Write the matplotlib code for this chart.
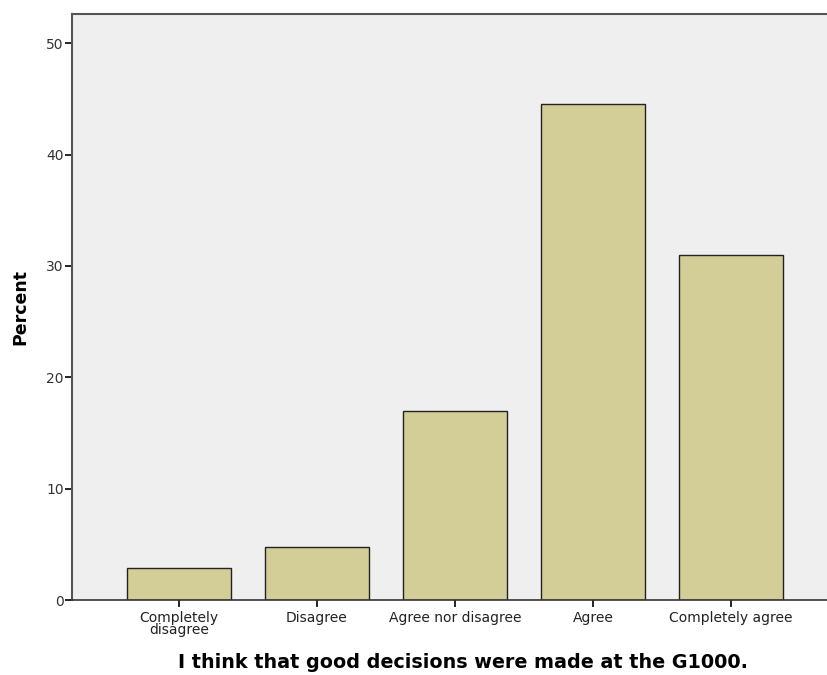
import matplotlib.pyplot as plt

categories = ["Completely\ndisagree", "Disagree", "Agree nor disagree", "Agree", "Completely agree"]
percent = [2.9, 4.8, 17.0, 44.5, 31.0]
y_ticks = [0, 10, 20, 30, 40, 50]

fig = plt.figure(figsize=(8.28, 6.75), dpi=100)
ax = fig.add_axes([0.087, 0.111, 0.915, 0.868])
ax.set_facecolor("#efefef")

x = list(range(len(categories)))
ax.bar(x, percent, width=0.753, color="#d3ce97", edgecolor="#222222", linewidth=1.0, zorder=2)

ax.set_xlim(-0.775, 4.715)
ax.set_ylim(0, 52.6)
ax.set_yticks(y_ticks)
ax.set_xticks(x)
ax.set_xticklabels(categories, fontsize=10, color="#222222", linespacing=0.8)
ax.tick_params(axis="y", labelsize=10, labelcolor="#333333", length=5, width=1.2, direction="out", pad=1)
ax.tick_params(axis="x", length=5, width=1.2, direction="out", pad=3)

for side in ["left", "top"]:
    ax.spines[side].set_color("#555555")
    ax.spines[side].set_linewidth(1.5)
ax.spines["bottom"].set_color("#333333")
ax.spines["bottom"].set_linewidth(1.2)
ax.spines["right"].set_visible(False)

ax.set_ylabel("Percent", fontsize=12.5, fontweight="bold", labelpad=12)
ax.set_xlabel("I think that good decisions were made at the G1000.", fontsize=13.8, fontweight="bold")
ax.xaxis.set_label_coords(0.516, -0.09)

fig.savefig("out.png", dpi=100)
